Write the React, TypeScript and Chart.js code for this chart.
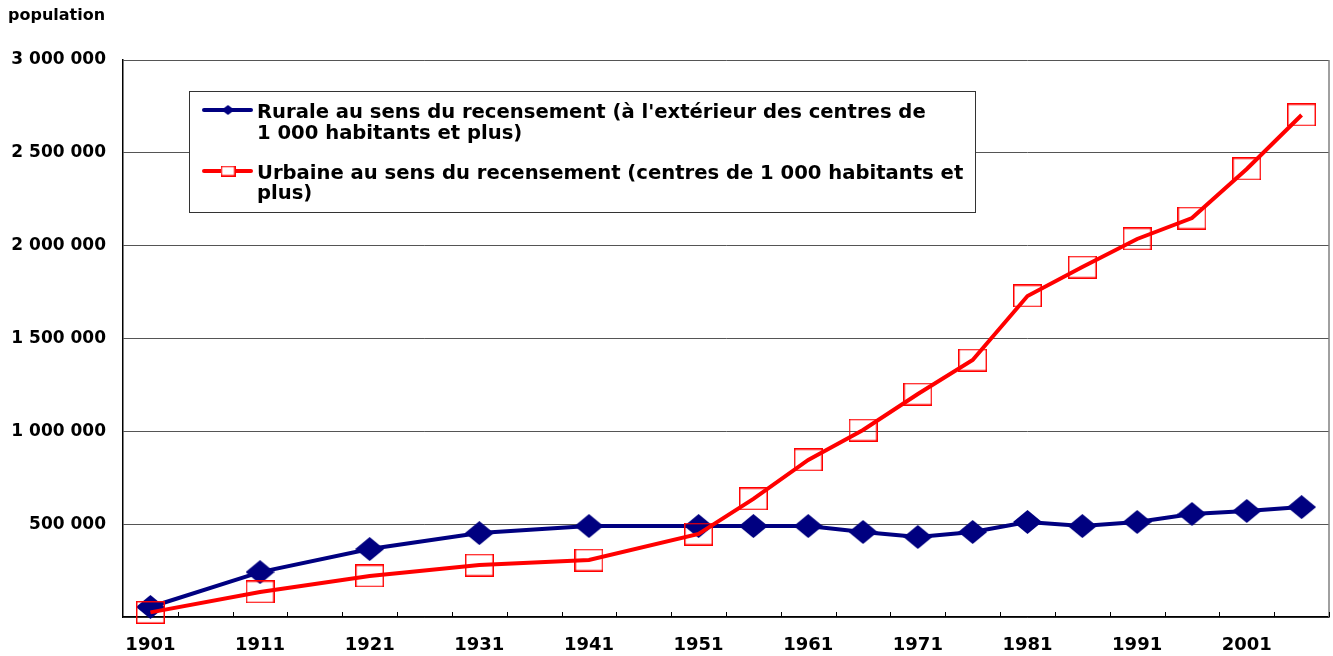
import { useEffect, useRef } from 'react';
import { Chart, registerables } from 'chart.js';

Chart.register(...registerables);

// ---- data ----
const years = ['1901', '1906', '1911', '1916', '1921', '1926', '1931', '1936', '1941', '1946', '1951', '1956', '1961', '1966', '1971', '1976', '1981', '1986', '1991', '1996', '2001', '2006'];
const xTickLabels = ['1901', '1911', '1921', '1931', '1941', '1951', '1961', '1971', '1981', '1991', '2001'];
const rural = [54000, null, 242000, null, 366000, null, 452000, null, 490000, null, 490000, 490000, 490000, 458000, 431000, 458000, 512000, 490000, 512000, 555000, 571000, 592000];
const urban = [25000, null, 135000, null, 221000, null, 280000, null, 307000, null, 447000, 636000, 846000, 1007000, 1201000, 1384000, 1729000, 1885000, 2036000, 2149000, 2413000, 2704000];
const yMax = 3000000;
const yStep = 500000;
const yAxisTitle = 'population';
const ruralLegend = ["Rurale au sens du recensement (à l'extérieur des centres de", '1 000 habitants et plus)'];
const urbanLegend = ['Urbaine au sens du recensement (centres de 1 000 habitants et', 'plus)'];

const NAVY = '#000080';
const RED = '#FF0000';
const FONT = "'DejaVu Sans', sans-serif";

function fmt(v: number): string {
  return String(v).replace(/\B(?=(\d{3})+(?!\d))/g, ' ');
}

function makeDiamond(w: number, h: number, color: string) {
  const c = document.createElement('canvas');
  c.width = w;
  c.height = h;
  const g = c.getContext('2d')!;
  g.fillStyle = color;
  g.beginPath();
  g.moveTo(w / 2, 0);
  g.lineTo(w, h / 2);
  g.lineTo(w / 2, h);
  g.lineTo(0, h / 2);
  g.closePath();
  g.fill();
  return c;
}

function makeSquare(w: number, h: number, color: string, lw: number) {
  const c = document.createElement('canvas');
  c.width = w;
  c.height = h;
  const g = c.getContext('2d')!;
  g.strokeStyle = color;
  g.lineWidth = lw;
  g.strokeRect(lw / 2, lw / 2, w - lw, h - lw);
  return c;
}

const decorPlugin = {
  id: 'decor',
  afterDraw(chart: any) {
    const ctx = chart.ctx as CanvasRenderingContext2D;
    const xs = chart.scales.x;
    const area = chart.chartArea;
    ctx.save();
    // right border
    ctx.strokeStyle = '#808080';
    ctx.lineWidth = 1.5;
    ctx.beginPath();
    ctx.moveTo(area.right, area.top);
    ctx.lineTo(area.right, area.bottom);
    ctx.stroke();
    // inward tick marks at category boundaries
    ctx.strokeStyle = '#000';
    ctx.lineWidth = 1;
    const n = years.length;
    for (let i = 1; i <= n; i++) {
      const x = i < n ? (xs.getPixelForValue(i - 1) + xs.getPixelForValue(i)) / 2 : area.right;
      const px = Math.round(x) + 0.5;
      ctx.beginPath();
      ctx.moveTo(px, area.bottom);
      ctx.lineTo(px, area.bottom - 5);
      ctx.stroke();
    }
    // y axis title
    ctx.fillStyle = '#000';
    ctx.font = `bold 16px ${FONT}`;
    ctx.textBaseline = 'alphabetic';
    ctx.textAlign = 'left';
    ctx.fillText(yAxisTitle, 8, 20);

    // legend box
    const bx = 189.5, by = 91.5, bw = 786, bh = 121;
    ctx.fillStyle = '#fff';
    ctx.fillRect(bx, by, bw, bh);
    ctx.strokeStyle = '#333';
    ctx.lineWidth = 1;
    ctx.strokeRect(bx, by, bw, bh);

    // legend samples
    ctx.lineWidth = 4;
    ctx.lineCap = 'round';
    ctx.strokeStyle = NAVY;
    ctx.beginPath();
    ctx.moveTo(204, 110);
    ctx.lineTo(251, 110);
    ctx.stroke();
    ctx.drawImage(makeDiamond(13, 10, NAVY), 228 - 6.5, 110 - 5);

    ctx.strokeStyle = RED;
    ctx.beginPath();
    ctx.moveTo(204, 171);
    ctx.lineTo(251, 171);
    ctx.stroke();
    ctx.fillStyle = '#fff';
    ctx.fillRect(221, 166, 14, 10);
    ctx.drawImage(makeSquare(15, 11, RED, 1.5), 228 - 7.5, 171 - 5.5);

    ctx.fillStyle = '#000';
    ctx.font = `bold 19.6px ${FONT}`;
    ctx.fillText(ruralLegend[0], 257, 118);
    ctx.fillText(ruralLegend[1], 257, 139);
    ctx.fillText(urbanLegend[0], 257, 179);
    ctx.fillText(urbanLegend[1], 257, 199);
    ctx.restore();
  },
};

export default function App() {
  const ref = useRef<HTMLCanvasElement>(null);

  useEffect(() => {
    document.documentElement.style.overflow = 'hidden';
    document.body.style.overflow = 'hidden';
    document.body.style.margin = '0';
    const canvas = ref.current!;
    const diamond = makeDiamond(29, 24, NAVY);
    const square = makeSquare(29, 23, RED, 1.5);
    const chart = new Chart(canvas, {
      type: 'line',
      data: {
        labels: years,
        datasets: [
          {
            label: ruralLegend.join(' '),
            data: rural,
            borderColor: NAVY,
            backgroundColor: NAVY,
            borderWidth: 4,
            pointStyle: diamond as any,
            pointRadius: 12,
            spanGaps: true,
            tension: 0,
            clip: false as any,
            order: 1,
          },
          {
            label: urbanLegend.join(' '),
            data: urban,
            borderColor: RED,
            backgroundColor: RED,
            borderWidth: 4,
            pointStyle: square as any,
            pointRadius: 12,
            spanGaps: true,
            tension: 0,
            clip: false as any,
            order: 0,
          },
        ],
      },
      options: {
        responsive: false,
        animation: false,
        layout: { autoPadding: false, padding: { top: 60, right: 4, left: 0, bottom: 0 } },
        plugins: {
          legend: { display: false },
          title: { display: false },
          tooltip: { enabled: false },
        },
        scales: {
          x: {
            type: 'category',
            offset: true,
            afterFit(s: any) {
              s.height = 39;
              s.paddingLeft = 0;
              s.paddingRight = 0;
            },
            grid: { display: false, drawTicks: false },
            border: { display: true, color: '#000', width: 1.5 },
            ticks: {
              autoSkip: false,
              maxRotation: 0,
              padding: 18,
              color: '#000',
              font: { family: FONT, size: 18, weight: 'bold' },
              callback: (_v: any, i: number) => (xTickLabels.includes(years[i]) ? years[i] : ''),
            },
          },
          y: {
            min: 0,
            max: yMax,
            afterFit(s: any) {
              s.width = 123;
            },
            grid: { color: '#555', lineWidth: 1, drawTicks: false },
            border: { display: true, color: '#000', width: 1.5 },
            ticks: {
              stepSize: yStep,
              padding: 17,
              color: '#000',
              font: { family: FONT, size: 17, weight: 'bold' },
              callback: (v: any) => (v === 0 ? '' : fmt(Number(v))),
            },
          },
        },
      },
      plugins: [decorPlugin],
    });
    return () => chart.destroy();
  }, []);

  return (
    <div style={{ position: 'fixed', left: 0, top: 0, width: 1333, height: 656, overflow: 'hidden', background: '#fff' }}>
      <canvas ref={ref} width={1333} height={656} style={{ display: 'block' }} />
    </div>
  );
}
